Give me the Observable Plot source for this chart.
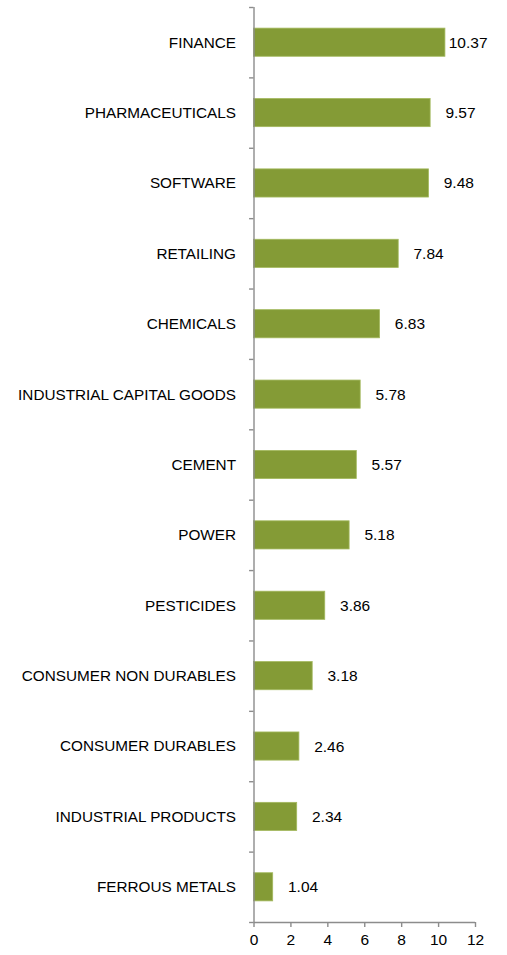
<!DOCTYPE html>
<html><head><meta charset="utf-8">
<script src="https://cdn.jsdelivr.net/npm/d3@7"></script>
<script src="https://cdn.jsdelivr.net/npm/@observablehq/plot@0.6"></script>
<style>body{margin:0;background:#fff;} #chart{width:507px;height:955px;}</style>
</head><body><div id="chart"></div>
<script>
const sectors = ["FINANCE","PHARMACEUTICALS","SOFTWARE","RETAILING","CHEMICALS","INDUSTRIAL CAPITAL GOODS","CEMENT","POWER","PESTICIDES","CONSUMER NON DURABLES","CONSUMER DURABLES","INDUSTRIAL PRODUCTS","FERROUS METALS"];
const values = [10.37,9.57,9.48,7.84,6.83,5.78,5.57,5.18,3.86,3.18,2.46,2.34,1.04];
const xTicks = [0,2,4,6,8,10,12];

const n = sectors.length;
const data = sectors.map((s,i)=>({sector:s, value:values[i], i}));
const bounds = d3.range(n+1);
const font = "Liberation Sans, Arial, sans-serif";
const axisGrey = "#8c8c8c";
// label offset (in x units) and right-most label start, emulating spreadsheet label placement
const labelGap = 0.8, labelMax = 10.55;

const chart = Plot.plot({
  width:507,height:955,marginTop:7,marginBottom:33,marginLeft:253.5,marginRight:32,
  style:{fontFamily:font,fontSize:"15px",color:"#000",background:"#fff"},
  x:{domain:[0,12]},
  y:{domain:[n,0],type:"linear"},
  marks:[
    Plot.rectX(data,{y1:d=>d.i+0.3,y2:d=>d.i+0.7,x1:0,x2:"value",fill:"#849b36",stroke:"#a3b95e",strokeWidth:0.8}),
    Plot.text(data,{y:d=>d.i+0.5,x:d=>Math.min(d.value+labelGap,labelMax),text:d=>d.value.toFixed(2),textAnchor:"start",fontSize:15.5,fill:"#000"}),
    Plot.ruleX([0],{y1:0,y2:n,stroke:axisGrey,strokeWidth:1.4}),
    Plot.ruleY([n],{x1:0,x2:12,stroke:axisGrey,strokeWidth:1.4}),
    Plot.ruleY(bounds,{x1:-0.24,x2:0,stroke:axisGrey,strokeWidth:1.4,clip:false}),
    Plot.axisX({ticks:xTicks,tickSize:5,tickPadding:6,fontSize:15.5,stroke:axisGrey,strokeWidth:1.4,color:"#000",tickFormat:d=>d,label:null}),
    Plot.axisY({ticks:sectors.map((s,i)=>i+0.5),tickFormat:v=>sectors[Math.round(v-0.5)],tickSize:0,tickPadding:18,fontSize:15.3,label:null})
  ]
});
document.getElementById("chart").appendChild(chart);
</script></body></html>
